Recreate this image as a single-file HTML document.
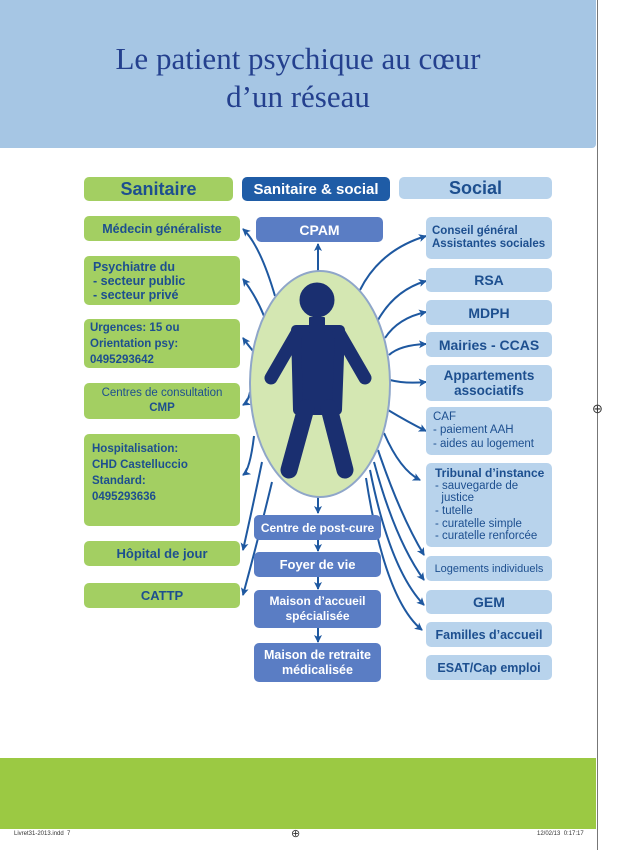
<!DOCTYPE html>
<html><head><meta charset="utf-8"><style>
body{margin:0;width:618px;height:850px;background:#fff;position:relative;overflow:hidden;font-family:"Liberation Sans",Arial,sans-serif}
.a{position:absolute}
.b{position:absolute;border-radius:5px;box-sizing:border-box;color:#1d4f8f;font-weight:bold;display:flex;flex-direction:column;justify-content:center}
.g{background:#a3cf62}
.s{background:#b8d3ec}
.c{background:#5a7dc4;color:#fff;text-align:center;align-items:center}
.ctr{text-align:center;align-items:center}
</style></head><body>
<div class="a" style="left:0;top:0;width:596px;height:148px;background:#a6c6e4;border-radius:0 0 4px 0"></div>
<div class="a" style="left:0;top:40px;width:596px;text-align:center;font-family:'Liberation Serif',serif;font-size:31px;line-height:38px;color:#24408e">Le patient psychique au cœur<br>d’un réseau</div>
<div class="a" style="left:0;top:758px;width:596px;height:71px;background:#9bc943"></div>
<div class="a" style="left:597px;top:0;width:1px;height:850px;background:#777"></div>
<div class="a" style="left:14px;top:831px;font-size:6px;color:#333">Livret31-2013.indd&nbsp;&nbsp;7</div>
<div class="a" style="left:537px;top:831px;font-size:6px;color:#333">12/02/13&nbsp;&nbsp;0:17:17</div>
<div class="a" style="left:291px;top:827px;font-size:11px;color:#333">⊕</div>
<div class="a" style="left:592px;top:401px;font-size:13px;color:#333">⊕</div>

<div class="b g ctr" style="left:84px;top:177px;width:149px;height:24px;font-size:18px;color:#1d4f8f">Sanitaire</div>
<div class="b ctr" style="left:242px;top:177px;width:148px;height:24px;font-size:15px;background:#1f5ca6;color:#fff">Sanitaire &amp; social</div>
<div class="b s ctr" style="left:399px;top:177px;width:153px;height:22px;font-size:18px">Social</div>

<svg class="a" style="left:0;top:0" width="618" height="850">
<defs><marker id="m" markerWidth="8" markerHeight="8" refX="7" refY="4" orient="auto" markerUnits="userSpaceOnUse"><path d="M0,0 L8,4 L0,8 L2,4z" fill="#1e58a0"/></marker></defs>
<g fill="none" stroke="#1e58a0" stroke-width="2" marker-end="url(#m)">
<path d="M275,296 Q260,245 243,229"/>
<path d="M264,316 Q256,296 243,279"/>
<path d="M253,351 Q248,345 243,338"/>
<path d="M250,392 Q248,402 243,405"/>
<path d="M254,436 Q250,470 243,475"/>
<path d="M262,462 Q252,510 243,550"/>
<path d="M272,482 Q258,540 243,595"/>
<path d="M318,272 L318,244"/>
<path d="M360,290 Q380,250 426,236"/>
<path d="M378,320 Q395,290 426,281"/>
<path d="M385,338 Q398,318 426,312"/>
<path d="M389,355 Q400,345 426,344"/>
<path d="M390,380 Q405,384 426,382"/>
<path d="M388,410 Q408,422 426,431"/>
<path d="M384,433 Q400,470 420,480"/>
<path d="M378,450 Q400,515 424,555"/>
<path d="M374,462 Q395,540 424,580"/>
<path d="M370,470 Q390,570 424,605"/>
<path d="M366,478 Q385,600 422,630"/>
<path d="M318,497 L318,513"/>
<path d="M318,540 L318,551"/>
<path d="M318,577 L318,589"/>
<path d="M318,628 L318,642"/>
</g>
<ellipse cx="320" cy="384" rx="70" ry="113" fill="#d4e7b2" stroke="#8fa6c9" stroke-width="2"/>
<g fill="#1a2f70" stroke="#1a2f70" stroke-linecap="round" stroke-linejoin="round">
<circle cx="317" cy="300" r="17"/>
<path d="M296,330 L340,330 L337,410 L298,410Z" stroke-width="10"/>
<path d="M297,333 L271,378" stroke-width="13" fill="none"/>
<path d="M339,333 L365,378" stroke-width="13" fill="none"/>
<path d="M306,408 L289,470" stroke-width="17" fill="none"/>
<path d="M329,408 L345,470" stroke-width="17" fill="none"/>
<path d="M310,318 L324,318 L324,332 L310,332Z" stroke-width="2"/>
</g>
</svg>

<div class="b c" style="left:256px;top:217px;width:127px;height:25px;font-size:14px">CPAM</div>
<div class="b c" style="left:254px;top:515px;width:127px;height:25px;font-size:12px">Centre de post-cure</div>
<div class="b c" style="left:254px;top:552px;width:127px;height:25px;font-size:13px">Foyer de vie</div>
<div class="b c" style="left:254px;top:590px;width:127px;height:38px;font-size:12px;line-height:15px">Maison d’accueil<br>spécialisée</div>
<div class="b c" style="left:254px;top:643px;width:127px;height:39px;font-size:12.5px;line-height:15px">Maison de retraite<br>médicalisée</div>

<div class="b g ctr" style="left:84px;top:216px;width:156px;height:25px;font-size:12.5px">Médecin généraliste</div>
<div class="b g" style="left:84px;top:256px;width:156px;height:49px;font-size:12.5px;padding-left:9px;line-height:14px">Psychiatre du<br>- secteur public<br>- secteur privé</div>
<div class="b g" style="left:84px;top:319px;width:156px;height:49px;font-size:11.5px;padding-left:6px;line-height:16px">Urgences: 15 ou<br>Orientation psy:<br>0495293642</div>
<div class="b g ctr" style="left:84px;top:383px;width:156px;height:36px;font-size:11.5px;line-height:15px;font-weight:normal">Centres de consultation<br><b>CMP</b></div>
<div class="b g" style="left:84px;top:434px;width:156px;height:92px;font-size:11.5px;padding-left:8px;line-height:16px;justify-content:flex-start;padding-top:7px">Hospitalisation:<br>CHD Castelluccio<br>Standard:<br>0495293636</div>
<div class="b g ctr" style="left:84px;top:541px;width:156px;height:25px;font-size:13px">Hôpital de jour</div>
<div class="b g ctr" style="left:84px;top:583px;width:156px;height:25px;font-size:13px">CATTP</div>

<div class="b s" style="left:426px;top:217px;width:126px;height:42px;font-size:11.5px;padding-left:6px;line-height:13px">Conseil général<br>Assistantes sociales</div>
<div class="b s ctr" style="left:426px;top:268px;width:126px;height:24px;font-size:14px">RSA</div>
<div class="b s ctr" style="left:426px;top:300px;width:126px;height:25px;font-size:14px">MDPH</div>
<div class="b s ctr" style="left:426px;top:332px;width:126px;height:25px;font-size:14px">Mairies - CCAS</div>
<div class="b s ctr" style="left:426px;top:365px;width:126px;height:36px;font-size:13.5px;line-height:15px">Appartements<br>associatifs</div>
<div class="b s" style="left:426px;top:407px;width:126px;height:48px;font-size:11.5px;padding-left:7px;line-height:13.5px;font-weight:normal">CAF<br>- paiement AAH<br>- aides au logement</div>
<div class="b s" style="left:426px;top:463px;width:126px;height:84px;font-size:11.5px;padding-left:9px;line-height:12.6px;font-weight:normal"><b style="font-size:12px">Tribunal d’instance</b>- sauvegarde de<br>&nbsp;&nbsp;justice<br>- tutelle<br>- curatelle simple<br>- curatelle renforcée</div>
<div class="b s ctr" style="left:426px;top:556px;width:126px;height:25px;font-size:11px;font-weight:normal">Logements individuels</div>
<div class="b s ctr" style="left:426px;top:590px;width:126px;height:24px;font-size:14px">GEM</div>
<div class="b s ctr" style="left:426px;top:622px;width:126px;height:25px;font-size:12.5px">Familles d’accueil</div>
<div class="b s ctr" style="left:426px;top:655px;width:126px;height:25px;font-size:12.5px">ESAT/Cap emploi</div>
</body></html>
